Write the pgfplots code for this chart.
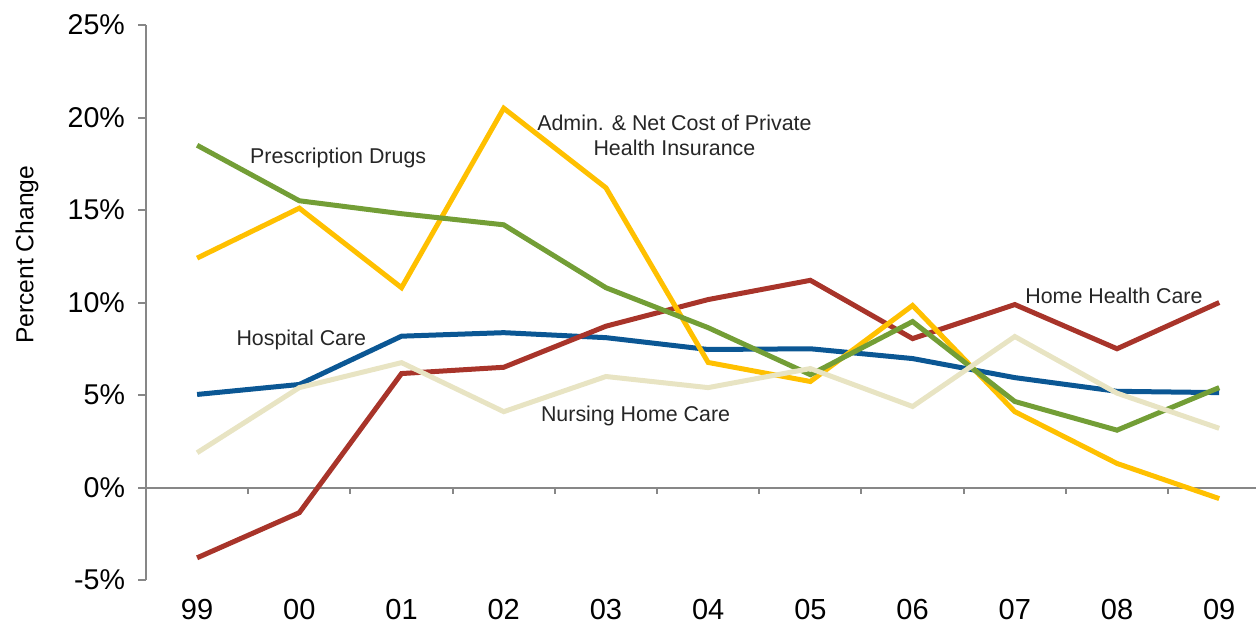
\documentclass[border=0pt]{standalone}
\usepackage{fontspec}
\setmainfont{Liberation Sans}
\usepackage{pgfplots}
\pgfplotsset{compat=1.18}
\definecolor{hosp}{HTML}{0B5794}
\definecolor{rx}{HTML}{739E36}
\definecolor{adm}{HTML}{FFC000}
\definecolor{hhc}{HTML}{A8342A}
\definecolor{nhc}{HTML}{E8E4C3}
\definecolor{axgray}{HTML}{878787}
\begin{document}
\begin{tikzpicture}
\useasboundingbox (-73pt,-24.5pt) rectangle (555pt,290pt);
\begin{axis}[
  scale only axis, width=555pt, height=277.5pt,
  xmin=-0.5, xmax=10.36, ymin=-5, ymax=25,
  axis y line*=left, axis x line*=bottom,
  x axis line style={draw=none},
  y axis line style={axgray, line width=1pt},
  xtick={0,...,10},
  xticklabels={99,00,01,02,03,04,05,06,07,08,09},
  xtick style={draw=none},
  ytick={-5,0,5,10,15,20,25},
  ytick style={axgray, line width=1pt},
  tick align=outside, major tick length=4pt,
  /pgf/number format/assume math mode=true,
  yticklabel={\pgfmathprintnumber{\tick}\%},
  yticklabel style={font=\fontsize{14.3}{16}\selectfont, xshift=-3pt},
  xticklabel style={font=\fontsize{14.5}{16}\selectfont, yshift=-2pt},
  ylabel={Percent Change},
  ylabel style={font=\fontsize{12.3}{14}\selectfont, at={(axis description cs:-0.1072,0.586)}, anchor=center},
  every axis plot/.append style={line width=2.5pt, mark=none},
  clip=false,
]
\draw[axgray, line width=1pt] (axis cs:-0.5,0) -- (axis cs:10.36,0);
\pgfplotsinvokeforeach{0.5,1.5,2.5,3.5,4.5,5.5,6.5,7.5,8.5,9.5}{\draw[axgray, line width=1pt] (axis cs:#1,0) -- (axis cs:#1,-0.36);}
\addplot[hosp] coordinates {(0,5.03)(1,5.57)(2,8.18)(3,8.37)(4,8.1)(5,7.46)(6,7.5)(7,6.97)(8,5.94)(9,5.2)(10,5.13)};
\addplot[hhc] coordinates {(0,-3.8)(1,-1.36)(2,6.16)(3,6.5)(4,8.72)(5,10.16)(6,11.2)(7,8.05)(8,9.89)(9,7.5)(10,10.0)};
\addplot[adm] coordinates {(0,12.4)(1,15.1)(2,10.8)(3,20.5)(4,16.2)(5,6.76)(6,5.73)(7,9.84)(8,4.1)(9,1.3)(10,-0.6)};
\addplot[rx] coordinates {(0,18.5)(1,15.5)(2,14.8)(3,14.2)(4,10.8)(5,8.64)(6,6.1)(7,8.97)(8,4.65)(9,3.1)(10,5.4)};
\addplot[nhc] coordinates {(0,1.88)(1,5.4)(2,6.75)(3,4.1)(4,6.0)(5,5.4)(6,6.43)(7,4.38)(8,8.16)(9,5.1)(10,3.2)};
\begin{scope}[every node/.style={font=\fontsize{10.7}{12.5}\selectfont, text=black!85, align=center}]
\node at (axis cs:1.38,17.84) {Prescription Drugs};
\node at (axis cs:4.67,19.03) {Admin. \& Net Cost of Private\\Health Insurance};
\node at (axis cs:1.02,7.95) {Hospital Care};
\node at (axis cs:4.29,3.89) {Nursing Home Care};
\node at (axis cs:8.97,10.38) {Home Health Care};
\end{scope}
\end{axis}
\end{tikzpicture}
\end{document}
